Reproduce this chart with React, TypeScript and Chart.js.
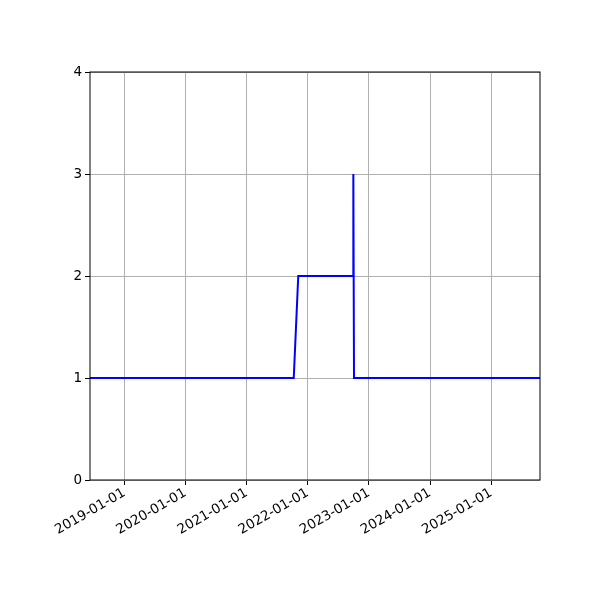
import { useRef, useEffect } from "react";
import { Chart, registerables } from "chart.js";

Chart.register(...registerables);

// step series
const dates = ["2018-06-10", "2021-10-09", "2021-11-05", "2022-09-29", "2022-09-30", "2022-10-04", "2025-10-19"];
const values = [1, 1, 2, 2, 3, 1, 1];
const tickYears = [2019, 2020, 2021, 2022, 2023, 2024, 2025];
const yTicks = [0, 1, 2, 3, 4];

const toMs = (d: string) => new Date(d + "T00:00:00Z").getTime();

const framePlugin = {
  id: "frame",
  afterDraw(chart: any) {
    const { ctx, chartArea } = chart;
    ctx.save();
    ctx.strokeStyle = "#000";
    ctx.lineWidth = 1;
    ctx.strokeRect(chartArea.left, chartArea.top, chartArea.right - chartArea.left, chartArea.bottom - chartArea.top);
    ctx.restore();
  },
};

export default function App() {
  const chartRef = useRef<HTMLCanvasElement | null>(null);
  const chartInstanceRef = useRef<Chart | null>(null);

  useEffect(() => {
    if (!chartRef.current) return;
    const ctx = chartRef.current.getContext("2d");
    if (!ctx) return;
    if (chartInstanceRef.current) chartInstanceRef.current.destroy();

    const font = { family: "DejaVu Sans", size: 13.5 };

    chartInstanceRef.current = new Chart(ctx, {
      type: "line",
      data: {
        datasets: [
          {
            data: dates.map((d, i) => ({ x: toMs(d), y: values[i] })),
            borderColor: "#0000ff",
            borderWidth: 2,
            pointRadius: 0,
            tension: 0,
            fill: false,
          },
        ],
      },
      options: {
        animation: false,
        responsive: false,
        devicePixelRatio: 1,
        layout: { padding: { left: 0, top: 72, right: 60, bottom: 0 } },
        plugins: { legend: { display: false }, tooltip: { enabled: false } },
        scales: {
          x: {
            type: "linear",
            min: toMs(dates[0]),
            max: toMs(dates[dates.length - 1]),
            afterBuildTicks: (scale: any) => {
              scale.ticks = tickYears.map((y) => ({ value: Date.UTC(y, 0, 1) }));
            },
            afterFit: (scale: any) => {
              scale.height = 120;
            },
            grid: { color: "#b0b0b0", lineWidth: 1, tickColor: "#000", tickLength: 5 },
            border: { display: false },
            ticks: {
              color: "#000",
              font,
              padding: 0,
              minRotation: 30,
              maxRotation: 30,
              autoSkip: false,
              callback: (v: any) => new Date(v).toISOString().slice(0, 10),
            },
          },
          y: {
            min: 0,
            max: 4,
            afterBuildTicks: (scale: any) => {
              scale.ticks = yTicks.map((v) => ({ value: v }));
            },
            afterFit: (scale: any) => {
              scale.width = 90;
            },
            grid: { color: "#b0b0b0", lineWidth: 1, tickColor: "#000", tickLength: 5 },
            border: { display: false },
            ticks: { color: "#000", font, padding: 3, callback: (v: any) => String(v) },
          },
        },
      } as any,
      plugins: [framePlugin],
    });

    return () => {
      if (chartInstanceRef.current) {
        chartInstanceRef.current.destroy();
        chartInstanceRef.current = null;
      }
    };
  });

  return (
    <div style={{ position: "absolute", left: 0, top: 0, width: 600, height: 600, background: "#fff" }}>
      <canvas ref={chartRef} width={600} height={600} style={{ width: 600, height: 600 }} />
    </div>
  );
}
